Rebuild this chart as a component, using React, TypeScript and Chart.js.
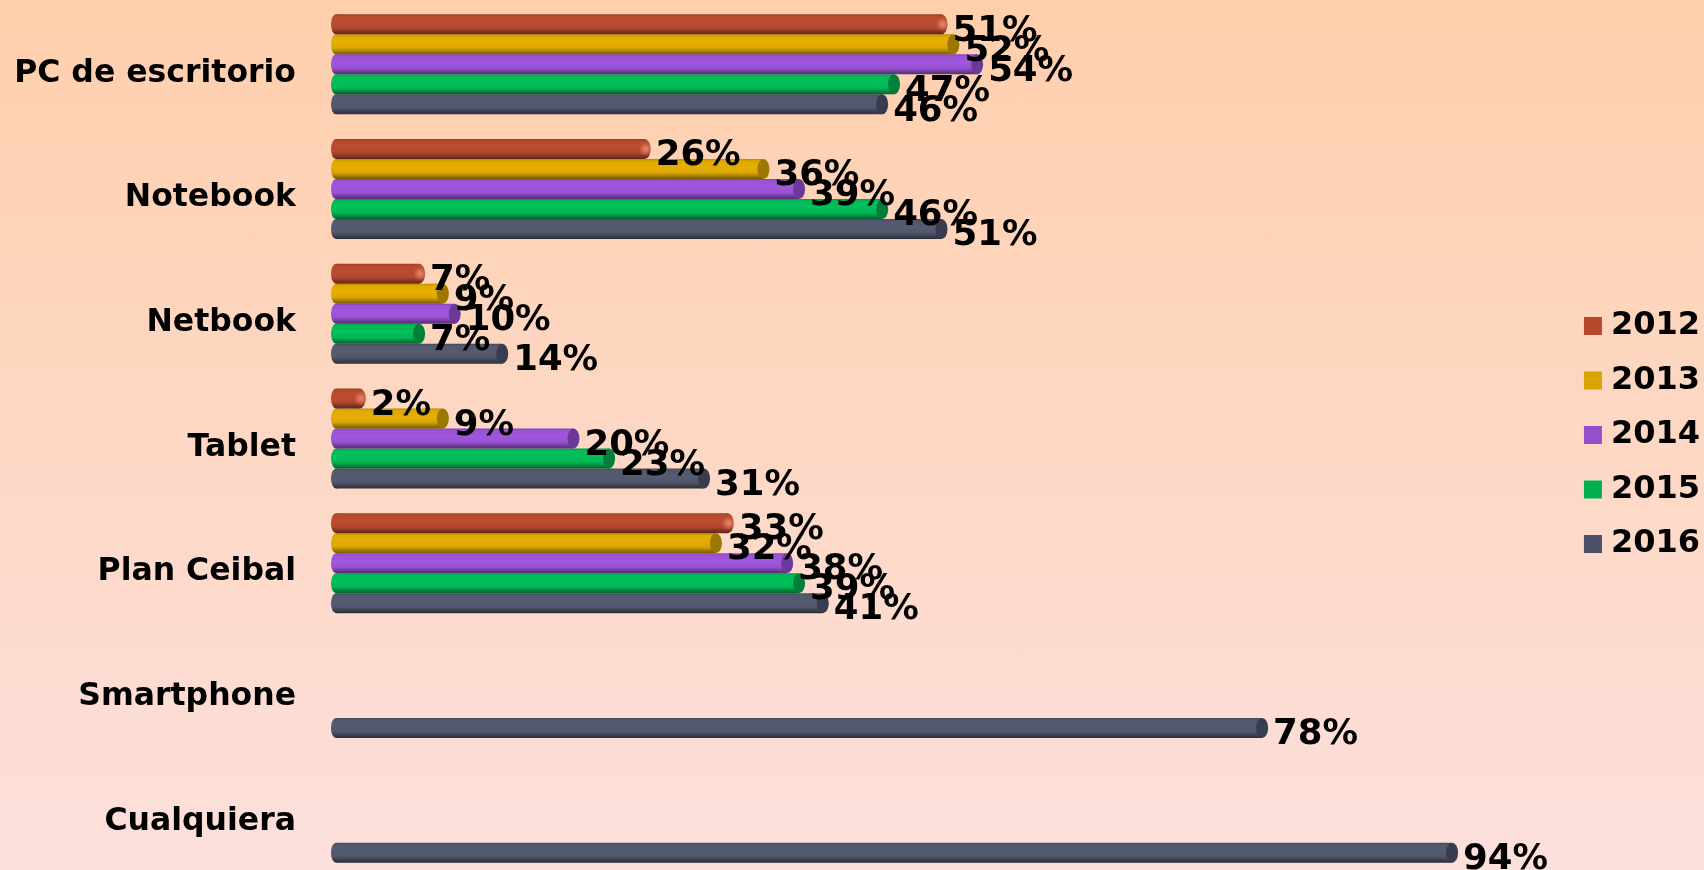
import React, { useEffect, useRef } from "react";
import { Chart, registerables } from "chart.js";

Chart.register(...registerables);

const categories = ["PC de escritorio", "Notebook", "Netbook", "Tablet", "Plan Ceibal", "Smartphone", "Cualquiera"];
const v2012 = [51, 26, 7, 2, 33, null, null];
const v2013 = [52, 36, 9, 9, 32, null, null];
const v2014 = [54, 39, 10, 20, 38, null, null];
const v2015 = [47, 46, 7, 23, 39, null, null];
const v2016 = [46, 51, 14, 31, 41, 78, 94];
const years = ["2012", "2013", "2014", "2015", "2016"];
const seriesValues = [v2012, v2013, v2014, v2015, v2016];
const barColors = ["#BC4C2F", "#E6AE00", "#A156DE", "#00C15A", "#555C72"];
const capColors = ["#BC4C2F", "#9C7700", "#6B3A99", "#007F3B", "#383C4E"];
const legendColors = ["#B5492E", "#D9A300", "#9450CC", "#00B050", "#4B5066"];

const FONT = "'DejaVu Sans', sans-serif";

function shade(hex: string, k: number) {
  const n = parseInt(hex.slice(1), 16);
  const c = (v: number) => Math.round(v * k);
  return `rgb(${c((n >> 16) & 255)},${c((n >> 8) & 255)},${c(n & 255)})`;
}

function gradientAt(ctx: CanvasRenderingContext2D, y: number, di: number) {
  const g = ctx.createLinearGradient(0, y - 10, 0, y + 10);
  const c = barColors[di];
  g.addColorStop(0, shade(c, 0.8));
  g.addColorStop(0.1, shade(c, 0.97));
  g.addColorStop(0.4, c);
  g.addColorStop(0.68, shade(c, 0.95));
  g.addColorStop(1, shade(c, 0.5));
  return g;
}

function barGradient(context: any) {
  const di = context.datasetIndex;
  if (context.type !== "data") return legendColors[di];
  const chart = context.chart;
  const y = chart.scales.y.getPixelForValue(context.dataIndex) + (di - 2) * 20;
  if (!Number.isFinite(y)) return barColors[di];
  return gradientAt(chart.ctx, y, di);
}

const decorations = {
  id: "decorations",
  afterLayout(chart: any) {
    chart.legend.top -= 3.5;
    chart.legend.bottom -= 3.5;
  },
  afterDatasetsDraw(chart: any) {
    const { ctx } = chart;
    ctx.save();
    seriesValues.forEach((vals, di) => {
      chart.getDatasetMeta(di).data.forEach((el: any, i: number) => {
        if (vals[i] == null) return;
        ctx.beginPath();
        ctx.ellipse(el.base, el.y, 5, 10, 0, 0, Math.PI * 2);
        ctx.fillStyle = gradientAt(ctx, el.y, di);
        ctx.fill();
        ctx.beginPath();
        ctx.ellipse(el.x, el.y, 6, 10, 0, 0, Math.PI * 2);
        if (di === 0) {
          ctx.fillStyle = gradientAt(ctx, el.y, 0);
          ctx.fill();
          const g = ctx.createRadialGradient(el.x + 1, el.y, 0, el.x + 1, el.y, 7);
          g.addColorStop(0, "rgba(232,140,112,0.95)");
          g.addColorStop(1, "rgba(232,140,112,0)");
          ctx.fillStyle = g;
          ctx.fill();
        } else {
          ctx.fillStyle = capColors[di];
          ctx.fill();
        }
      });
    });
    ctx.fillStyle = "#000";
    ctx.font = `bold 35.5px ${FONT}`;
    ctx.textAlign = "left";
    ctx.textBaseline = "middle";
    seriesValues.forEach((vals, di) => {
      chart.getDatasetMeta(di).data.forEach((el: any, i: number) => {
        if (vals[i] == null) return;
        ctx.fillText(`${vals[i]}%`, el.x + 11, el.y + 7);
      });
    });
    ctx.restore();
  },
};

export default function App() {
  const ref = useRef<HTMLCanvasElement>(null);
  useEffect(() => {
    const chart = new Chart(ref.current!, {
      type: "bar",
      data: {
        labels: categories,
        datasets: years.map((y, i) => ({
          label: y,
          data: seriesValues[i],
          backgroundColor: barGradient,
          borderWidth: 0,
          categoryPercentage: 0.802,
          barPercentage: 1,
        })),
      } as any,
      options: {
        indexAxis: "y",
        animation: false,
        responsive: false,
        layout: { padding: { top: 2, left: 0, right: 0, bottom: 0 } },
        scales: {
          x: { display: false, min: -0.42, max: 103.8, grid: { display: false } },
          y: {
            grid: { display: false, drawTicks: false },
            border: { display: false },
            afterFit: (s: any) => {
              s.width = 331;
              s.paddingTop = 0;
              s.paddingBottom = 0;
            },
            ticks: {
              color: "#000",
              padding: 35,
              labelOffset: 9,
              autoSkip: false,
              font: { family: FONT, size: 31.5, weight: "bold" },
            },
          },
        },
        plugins: {
          tooltip: { enabled: false },
          legend: {
            position: "right",
            labels: {
              color: "#000",
              usePointStyle: true,
              pointStyle: "rect",
              boxWidth: 4,
              boxHeight: 18,
              padding: 22.5,
              font: { family: FONT, size: 32, weight: "bold" },
              generateLabels: (c: any) =>
                Chart.defaults.plugins.legend.labels.generateLabels(c).map((item: any, i: number) => ({
                  ...item,
                  fillStyle: legendColors[i],
                  strokeStyle: legendColors[i],
                  lineWidth: 0,
                })),
            },
          },
        },
      } as any,
      plugins: [decorations],
    });
    return () => chart.destroy();
  }, []);
  return (
    <div
      style={{
        position: "fixed",
        left: 0,
        top: 0,
        width: 1704,
        height: 870,
        overflow: "hidden",
        background: "linear-gradient(to bottom, #FFCFAC 0%, #FCE0DC 100%)",
      }}
    >
      <canvas ref={ref} width={1710} height={875} style={{ display: "block", width: 1710, height: 875 }} />
    </div>
  );
}
